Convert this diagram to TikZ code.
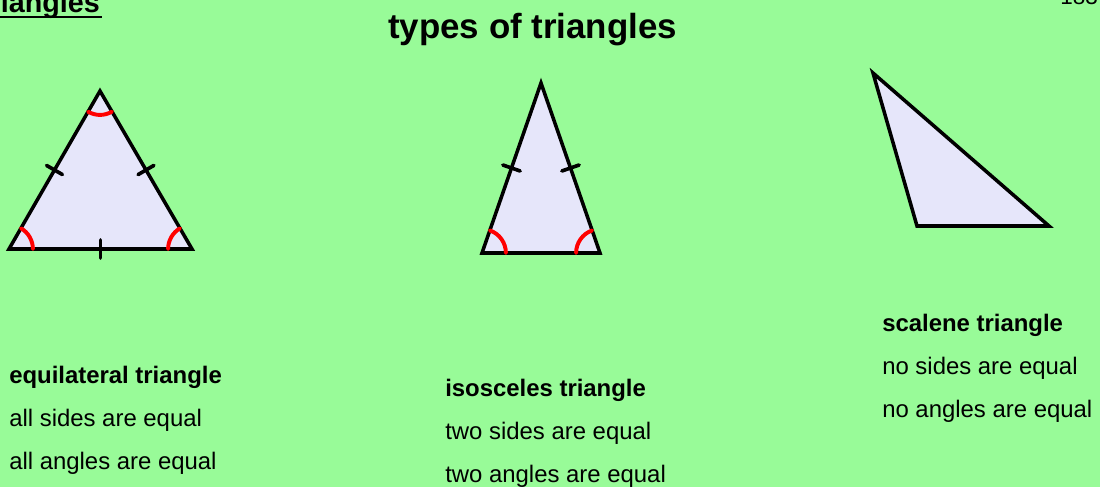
\documentclass[tikz,border=0pt]{standalone}
\usepackage{fontspec}
\setmainfont{Liberation Sans}
\usetikzlibrary{angles,calc}
\definecolor{bggreen}{RGB}{152,251,152}
\definecolor{trifill}{RGB}{230,230,250}

\begin{document}
\begin{tikzpicture}[x=0.025cm, y=-0.025cm,
tri/.style = {draw, fill=trifill, line width=2.5pt},
tickmark/.style = {draw, line width=2.6pt, line cap=round},
redarc/.style = {draw=red, line width=2.8pt, line cap=round,
                 angle radius=17pt},
txt/.style = {inner sep=0pt, anchor=base west,
              font=\fontsize{17}{20}\selectfont}
                    ]
\useasboundingbox (0,0) rectangle (1100,487);
\fill[bggreen] (0,0) rectangle (1100,487);
\clip (0,0) rectangle (1100,487);
% headings
\node[txt, font=\fontsize{24.8}{30}\selectfont\bfseries] (title) at (388,38) {types of triangles};
\node[inner sep=0pt, anchor=base east, font=\fontsize{20.4}{24}\selectfont\bfseries]
    (topic) at (100,12) {Triangles};
\draw[line width=1.3pt] ($(topic.base west)+(0,5)$) -- ($(topic.base east)+(2,5)$);
\node[txt, font=\fontsize{16}{20}\selectfont] (page) at (1060,4) {183};
% corners
\coordinate (eqL) at (9,249);   \coordinate (eqR) at (192,249);  \coordinate (eqT) at (100,91);
\coordinate (isL) at (482,253); \coordinate (isR) at (600,253);  \coordinate (isT) at (541,83);
\coordinate (scL) at (917,226); \coordinate (scR) at (1049,226); \coordinate (scT) at (873,73);
\foreach \n in {eq, is, sc}
    \draw[tri] (\n L) -- (\n R) -- (\n T) -- cycle;
% equal sides
\foreach \a/\b in {eqL/eqT, eqT/eqR, eqL/eqR, isL/isT, isT/isR}
    \draw[tickmark] ($(\a)!.5!(\b)!6.5pt!90:(\b)$) -- ($(\a)!.5!(\b)!6.5pt!-90:(\b)$);
% equal angles
\foreach \v/\p/\q in {eqT/eqL/eqR, eqL/eqR/eqT, eqR/eqT/eqL, isL/isR/isT, isR/isT/isL}
    \pic[redarc] {angle = \p--\v--\q};
% labels
\foreach \n/\x/\y/\kind/\how in {eq/9/383/equilateral/all, is/445/396/isosceles/two,
                                 sc/882/331/scalene/no}
{
    \node[txt, font=\fontsize{17}{20}\selectfont\bfseries] (\n-name) at (\x,\y) {\kind\ triangle};
    \node[txt] (\n-sides) at (\x,\y+43) {\how\ sides are equal};
    \node[txt] (\n-angles) at (\x,\y+86) {\how\ angles are equal};
}
\end{tikzpicture}
\end{document}
